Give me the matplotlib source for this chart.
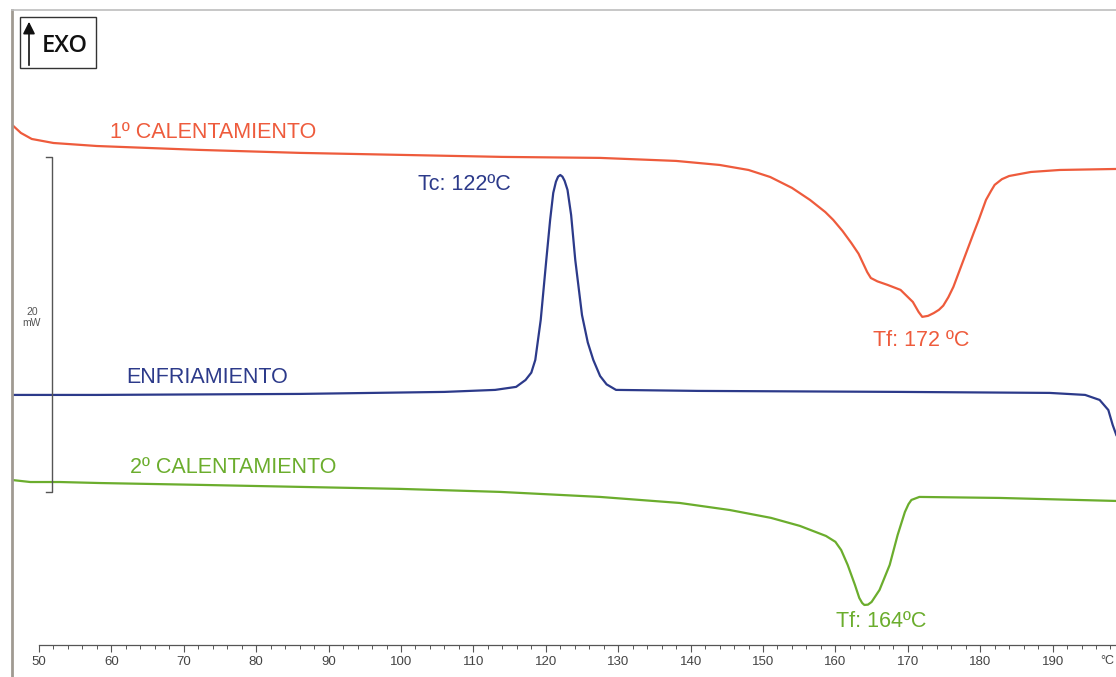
import matplotlib.pyplot as plt
from matplotlib.patches import Rectangle, FancyArrowPatch

plt.rcParams['font.family'] = ['Liberation Sans', 'DejaVu Sans']

# Temperatura (ºC) y flujo de calor (mW, linea base arbitraria)
temp_cal1 = [46.3, 47.5, 49.0, 52.0, 58.0, 72.0, 86.0, 100.0, 114.0, 127.5,
             138.0, 144.0, 148.0, 151.0, 154.0, 156.5, 158.6, 159.7, 161.0, 162.2,
             163.2, 163.8, 164.4, 164.9, 165.8, 167.2, 169.0, 170.7, 171.5, 172.0,
             172.8, 173.6, 174.3, 174.9, 175.6, 176.3, 177.7, 179.1, 179.8, 180.8,
             181.5, 182.0, 183.0, 184.0, 187.0, 191.0, 198.8]
flujo_cal1 = [22.39, 21.91, 21.55, 21.31, 21.13, 20.90, 20.72, 20.60, 20.48, 20.42,
              20.24, 20.00, 19.70, 19.28, 18.63, 17.91, 17.19, 16.72, 16.05, 15.34,
              14.70, 14.15, 13.60, 13.25, 13.05, 12.84, 12.54, 11.82, 11.22, 10.93,
              10.99, 11.16, 11.35, 11.60, 12.10, 12.72, 14.33, 15.94, 16.72, 17.91,
              18.45, 18.81, 19.15, 19.34, 19.58, 19.70, 19.76]

temp_enf = [46.3, 58.0, 86.0, 106.0, 113.0, 115.9, 117.2, 118.0, 118.55, 119.3,
            120.07, 120.6, 121.03, 121.4, 121.7, 122.0, 122.3, 122.6, 123.0, 123.5,
            124.07, 125.0, 125.8, 126.56, 127.5, 128.4, 129.7, 141.0, 169.0, 189.6,
            194.5, 196.5, 197.7, 198.3, 198.8]
flujo_enf = [6.27, 6.27, 6.33, 6.45, 6.57, 6.75, 7.16, 7.60, 8.36, 10.75,
             14.33, 16.72, 18.33, 19.00, 19.30, 19.40, 19.30, 19.05, 18.51, 17.01,
             14.33, 11.04, 9.40, 8.36, 7.40, 6.90, 6.57, 6.51, 6.45, 6.39,
             6.27, 5.97, 5.37, 4.48, 3.88]

temp_cal2 = [46.3, 48.8, 52.9, 58.4, 72.2, 86.0, 99.9, 113.7, 127.5, 138.5,
             145.4, 151.1, 155.1, 158.7, 160.0, 160.8, 161.7, 162.7, 163.3, 163.7,
             164.0, 164.5, 165.0, 166.1, 167.5, 168.6, 169.6, 170.1, 170.5, 171.6,
             182.7, 198.8]
flujo_cal2 = [1.19, 1.07, 1.07, 1.01, 0.90, 0.78, 0.66, 0.48, 0.18, -0.18,
              -0.60, -1.07, -1.55, -2.15, -2.50, -2.99, -3.88, -5.07, -5.85, -6.15,
              -6.27, -6.25, -6.09, -5.37, -3.88, -2.09, -0.72, -0.25, 0.00, 0.18,
              0.12, -0.06]

ticks_temp = list(range(50, 200, 10))
ticks_menores = list(range(50, 199, 2))

rojo = '#ee5b3c'
azul = '#2c3a8a'
verde = '#6bad2d'

fig = plt.figure(figsize=(11.16, 6.77), dpi=100)
ax = fig.add_axes([12 / 1116, 0, 1 - 12 / 1116, 1 - 10 / 677])

ax.plot(temp_cal1, flujo_cal1, color=rojo, lw=1.6)
ax.plot(temp_enf, flujo_enf, color=azul, lw=1.6)
ax.plot(temp_cal2, flujo_cal2, color=verde, lw=1.6)

ax.set_xlim(46.27, 198.76)
ax.set_ylim(-10.57, 29.25)

# marco
ax.spines['right'].set_visible(False)
ax.spines['left'].set_color('#a09a92')
ax.spines['left'].set_linewidth(2)
ax.spines['top'].set_color('#bdbdbd')
ax.spines['top'].set_linewidth(1.2)

# eje de temperatura dentro del area
ax.spines['bottom'].set_position(('data', -8.66))
ax.spines['bottom'].set_bounds(50, 198.76)
ax.spines['bottom'].set_color('#555555')
ax.spines['bottom'].set_linewidth(0.9)
ax.set_xticks(ticks_temp)
ax.set_xticklabels([str(t) for t in ticks_temp])
ax.set_xticks(ticks_menores, minor=True)
ax.tick_params(axis='x', which='major', length=5, width=0.8, color='#555555',
               labelsize=9.5, labelcolor='#444444', pad=3)
ax.tick_params(axis='x', which='minor', length=3, width=0.7, color='#555555')
ax.set_yticks([])
ax.text(197.6, -9.6, '°C', fontsize=9, color='#444444', ha='center', va='center')

# barra de escala 20 mW
ax.plot([51.0, 51.8, 51.8, 51.0], [20.48, 20.48, 0.48, 0.48], color='#555555', lw=1)
ax.text(49.0, 10.9, '20\nmW', fontsize=7.5, color='#555555', ha='center', va='center',
        linespacing=1.1)

# etiquetas
tam = 15.5
ax.text(59.8, 21.91, '1º CALENTAMIENTO', color=rojo, fontsize=tam, ha='left', va='center')
ax.text(102.3, 18.81, 'Tc: 122ºC', color=azul, fontsize=tam, ha='left', va='center')
ax.text(165.2, 9.49, 'Tf: 172 ºC', color=rojo, fontsize=tam, ha='left', va='center')
ax.text(62.0, 7.34, 'ENFRIAMIENTO', color=azul, fontsize=tam, ha='left', va='center')
ax.text(62.6, 1.91, '2º CALENTAMIENTO', color=verde, fontsize=tam, ha='left', va='center')
ax.text(160.1, -7.28, 'Tf: 164ºC', color=verde, fontsize=tam, ha='left', va='center')

# caja EXO
fig.add_artist(Rectangle((20 / 1116, 1 - 68 / 677), 76 / 1116, 51 / 677,
                         transform=fig.transFigure, fill=False, ec='#333333', lw=1))
fig.add_artist(FancyArrowPatch((29 / 1116, 1 - 68 / 677), (29 / 1116, 1 - 19 / 677),
                               transform=fig.transFigure, arrowstyle='-|>',
                               mutation_scale=18, color='#111111', lw=1.2))
fig.text(65 / 1116, 1 - 46 / 677, 'EXO', fontsize=17, fontweight='semibold',
         family=['Open Sans', 'DejaVu Sans'], color='#111111', ha='center', va='center')

fig.savefig('out.png', dpi=100)
